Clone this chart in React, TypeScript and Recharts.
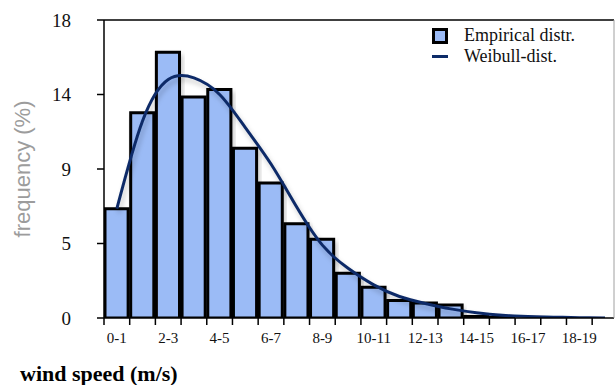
import React from 'react';
import {
  ComposedChart,
  Bar,
  Line,
  XAxis,
  YAxis
} from 'recharts';

const categories = [
  '0-1', '1-2', '2-3', '3-4', '4-5', '5-6', '6-7', '7-8', '8-9', '9-10',
  '10-11', '11-12', '12-13', '13-14', '14-15', '15-16', '16-17', '17-18', '18-19', '19-20'
];
const binCenters = [
  0.5, 1.5, 2.5, 3.5, 4.5, 5.5, 6.5, 7.5, 8.5, 9.5,
  10.5, 11.5, 12.5, 13.5, 14.5, 15.5, 16.5, 17.5, 18.5, 19.5
];
const empirical = [
  6.6, 12.4, 16.05, 13.35, 13.8, 10.25, 8.15, 5.7, 4.75, 2.7,
  1.85, 1.05, 0.9, 0.78, 0.15, 0.1, null, null, null, null
];
const weibull = [
  6.6, 11.9, 14.4, 14.5, 13.5, 11.5, 9.3, 6.7, 4.4, 3.0,
  2.0, 1.3, 0.88, 0.55, 0.32, 0.17, 0.09, 0.05, 0.02, 0
];
const yTicks = [0, 4.5, 9, 13.5, 18];
const edgeTicks = [0, 1, 2, 3, 4, 5, 6, 7, 8, 9, 10, 11, 12, 13, 14, 15, 16, 17, 18, 19];
const labelTicks = [0.5, 2.5, 4.5, 6.5, 8.5, 10.5, 12.5, 14.5, 16.5, 18.5];

const data = binCenters.map((x, i) => ({
  x,
  category: categories[i],
  empirical: empirical[i],
  weibull: weibull[i]
}));

const BAR_FILL = '#9bbbf6';
const LINE_COLOR = '#0d2b68';
const SERIF = '"Liberation Serif", "Times New Roman", serif';

function ChartLegend() {
  return (
    <div
      style={{
        position: 'absolute',
        left: 432,
        top: 25,
        fontFamily: SERIF,
        fontSize: 18,
        lineHeight: '21px',
        color: '#111'
      }}
    >
      <div style={{ display: 'flex', alignItems: 'center', height: 21 }}>
        <span
          style={{
            display: 'inline-block',
            width: 16,
            height: 16,
            boxSizing: 'border-box',
            border: '3px solid #000',
            background: BAR_FILL,
            marginRight: 16
          }}
        />
        <span>Empirical distr.</span>
      </div>
      <div style={{ display: 'flex', alignItems: 'center', height: 21 }}>
        <span
          style={{
            display: 'inline-block',
            width: 16,
            height: 3,
            background: LINE_COLOR,
            marginRight: 16
          }}
        />
        <span>Weibull-dist.</span>
      </div>
    </div>
  );
}

export default function App() {
  return (
    <div style={{ position: 'absolute', left: 0, top: 0, width: 615, height: 385 }}>
      <ComposedChart
        width={615}
        height={385}
        data={data}
        margin={{ top: 19, right: 0, left: 0, bottom: 36 }}
      >
        <defs>
          <filter id="softShadow" x="-10%" y="-10%" width="130%" height="130%">
            <feDropShadow dx="2" dy="4" stdDeviation="2.5" floodColor="#000" floodOpacity="0.22" />
          </filter>
        </defs>
        <XAxis
          xAxisId="top"
          orientation="top"
          type="number"
          domain={[0, 19.85]}
          allowDataOverflow
          height={1}
          tick={false}
          tickLine={false}
          axisLine={{ stroke: '#000', strokeWidth: 1.5 }}
        />
        <XAxis
          xAxisId="edges"
          dataKey="x"
          type="number"
          domain={[0, 19.85]}
          allowDataOverflow
          ticks={edgeTicks}
          interval={0}
          height={1}
          tickSize={7}
          tickFormatter={() => ''}
          tickLine={{ stroke: '#000', strokeWidth: 1.5 }}
          axisLine={{ stroke: '#000', strokeWidth: 1.5 }}
        />
        <XAxis
          xAxisId="labels"
          dataKey="x"
          type="number"
          domain={[0, 19.85]}
          allowDataOverflow
          ticks={labelTicks}
          interval={0}
          height={30}
          tickSize={0}
          tickMargin={13}
          tickLine={false}
          axisLine={false}
          tickFormatter={(v) => categories[binCenters.indexOf(v)]}
          tick={{ fill: '#111', fontFamily: SERIF, fontSize: 15 }}
        />
        <YAxis
          width={104}
          domain={[0, 18]}
          ticks={yTicks}
          interval={0}
          allowDataOverflow
          tickSize={7}
          tickMargin={26}
          tickFormatter={(v) => String(Math.round(v))}
          tick={{ fill: '#111', fontFamily: SERIF, fontSize: 19 }}
          tickLine={{ stroke: '#000', strokeWidth: 1.5 }}
          axisLine={{ stroke: '#000', strokeWidth: 1.5 }}
          label={{
            value: 'frequency (%)',
            angle: -90,
            position: 'insideLeft',
            offset: 22,
            style: {
              textAnchor: 'middle',
              fill: '#9c9c9c',
              fontFamily: '"Liberation Sans", Arial, sans-serif',
              fontSize: 22
            }
          }}
        />
        <YAxis
          yAxisId="right"
          orientation="right"
          width={1}
          domain={[0, 18]}
          tick={false}
          tickLine={false}
          axisLine={{ stroke: '#a0a0a0', strokeWidth: 1 }}
        />
        <Bar
          xAxisId="edges"
          dataKey="empirical"
          name="Empirical distr."
          barSize={25.7}
          fill={BAR_FILL}
          stroke="#000"
          strokeWidth={3}
          filter="url(#softShadow)"
          isAnimationActive={false}
        />
        <Line
          xAxisId="edges"
          dataKey="weibull"
          name="Weibull-dist."
          type="natural"
          stroke={LINE_COLOR}
          strokeWidth={3}
          dot={false}
          activeDot={false}
          filter="url(#softShadow)"
          isAnimationActive={false}
        />
      </ComposedChart>
      <ChartLegend />
      <div
        style={{
          position: 'absolute',
          left: 20,
          top: 363,
          fontFamily: SERIF,
          fontWeight: 'bold',
          fontSize: 22,
          lineHeight: '22px',
          color: '#000',
          whiteSpace: 'nowrap'
        }}
      >
        wind speed (m/s)
      </div>
    </div>
  );
}
